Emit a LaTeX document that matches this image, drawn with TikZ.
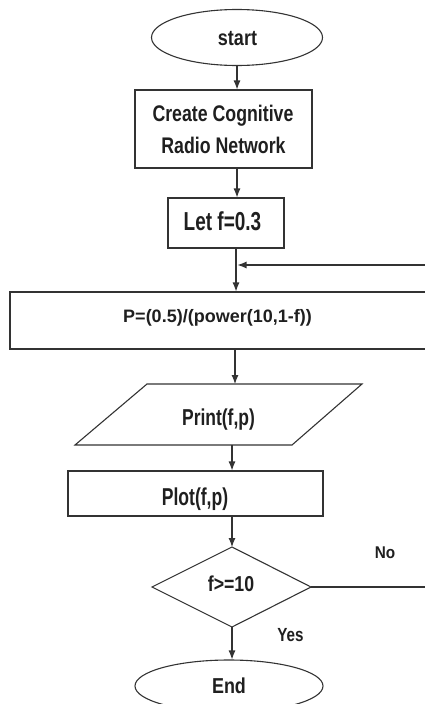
\documentclass[tikz,border=0pt]{standalone}
\usepackage{fontspec}
\setmainfont{Liberation Sans}
\usepackage{graphicx}
\usetikzlibrary{shapes.geometric,arrows.meta}
\newcommand\lbl[3]{\scalebox{#1}[1]{\fontsize{#2}{#2}\selectfont\bfseries #3}}
\tikzset{
  ln/.style={line width=1.1pt, draw=black!80},
  arr/.style={ln, -{Latex[length=9pt,width=7pt]}},
  boxnode/.style={ln, rectangle, inner sep=0pt},
  ovalnode/.style={ln, ellipse, inner sep=0pt},
  txt/.style={anchor=base, inner sep=0pt, text=black!88}
}
\begin{document}
\begin{tikzpicture}[x=1pt,y=-1pt]
\useasboundingbox (0,0) rectangle (425,704);
\clip (0,0) rectangle (425,704);
% shapes
\node[ovalnode, minimum width=171pt, minimum height=56pt] (start) at (237,37.5) {};
\node[boxnode, minimum width=177pt, minimum height=78pt] (create) at (223.5,129) {};
\node[boxnode, minimum width=116pt, minimum height=50pt] (let) at (226,223) {};
\node[boxnode, minimum width=435pt, minimum height=57pt] (calc) at (227.5,320.5) {};
\coordinate (pTL) at (147,384);
\coordinate (pTR) at (362,384);
\coordinate (pBR) at (292,445);
\coordinate (pBL) at (75,445);
\draw[ln] (pTL) -- (pTR) -- (pBR) -- (pBL) -- cycle;
\node[boxnode, minimum width=255pt, minimum height=45pt] (plot) at (195.5,493.5) {};
\coordinate (dT) at (232,547);
\coordinate (dR) at (311,587);
\coordinate (dB) at (232,627);
\coordinate (dL) at (152,587);
\draw[ln] (dT) -- (dR) -- (dB) -- (dL) -- cycle;
\node[ovalnode, minimum width=188pt, minimum height=52pt] (end) at (229,686) {};
% texts
\node[txt] (tstart) at (237.5,45) {\lbl{0.83}{21.7}{start}};
\node[txt] (tc1) at (223,121.7) {\lbl{0.785}{22.6}{Create Cognitive}};
\node[txt] (tc2) at (223.5,153) {\lbl{0.785}{22.6}{Radio Network}};
\node[txt] (tlet) at (222.5,230) {\lbl{0.73}{26}{Let f=0.3}};
\node[txt] (tcalc) at (217.5,322.7) {\lbl{1.0}{18}{P=(0.5)/(power(10,1-f))}};
\node[txt] (tprint) at (218.5,425) {\lbl{0.76}{23}{Print(f,p)}};
\node[txt] (tplot) at (195,505) {\lbl{0.72}{24.4}{Plot(f,p)}};
\node[txt] (tdec) at (231,591.7) {\lbl{0.82}{21.6}{f>=10}};
\node[txt] (tno) at (385,558) {\lbl{0.9}{17}{No}};
\node[txt] (tyes) at (290.5,641.7) {\lbl{0.8}{19}{Yes}};
\node[txt] (tend) at (229,693.3) {\lbl{0.83}{21.6}{End}};
% helper x-positions
\coordinate (ax1) at (236,0);
\coordinate (ax2) at (235,0);
\coordinate (farR) at (445,0);
\coordinate (loopIn) at (237.5,265);
% connectors
\draw[arr] (start.south) -- (create.north -| start.south);
\draw[arr] (create.south -| start.south) -- (let.north -| start.south);
\draw[arr] (let.south -| ax1) -- (calc.north -| ax1);
\draw[arr] (dR) -- (dR -| farR) -- (farR |- loopIn) -- (loopIn);
\draw[arr] (calc.south -| ax2) -- (ax2 |- pTL);
\draw[arr] (dT |- pBL) -- (plot.north -| dT);
\draw[arr] (plot.south -| dT) -- (dT);
\draw[arr] (dB) -- (end.north -| dB);
\end{tikzpicture}
\end{document}
